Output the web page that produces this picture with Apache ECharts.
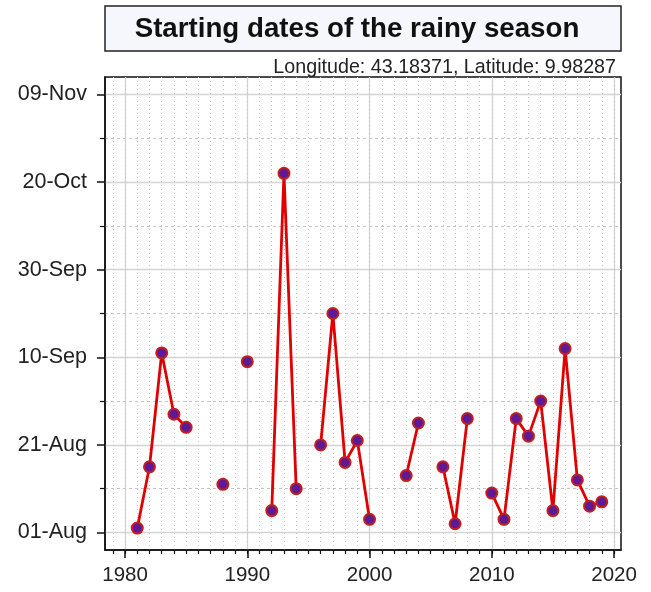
<!DOCTYPE html>
<html>
<head>
<meta charset="utf-8">
<script src="https://cdn.jsdelivr.net/npm/echarts@6/dist/echarts.min.js"></script>
<style>
html,body{margin:0;padding:0;background:#fff;}
#chart{width:651px;height:592px;}
</style>
</head>
<body>
<div id="chart"></div>
<script>
// ---- data ----
const years = [1981,1982,1983,1984,1985,1986,1987,1988,1989,1990,1991,1992,1993,1994,1995,1996,1997,1998,1999,2000,
               2001,2002,2003,2004,2005,2006,2007,2008,2009,2010,2011,2012,2013,2014,2015,2016,2017,2018,2019];
// days after 01-Aug (null = missing)
const onsetDays = [1,15,41,27,24,null,null,11,null,39,null,5,82,10,null,20,50,16,21,3,
                   null,null,13,25,null,15,2,26,null,9,3,26,22,30,5,42,12,6,7];
const xMajorTicks = [1980,1990,2000,2010,2020];
const xMinorTicks = [1979,1980,1981,1982,1983,1984,1985,1986,1987,1988,1989,1990,1991,1992,1993,1994,1995,1996,1997,1998,1999,
                     2000,2001,2002,2003,2004,2005,2006,2007,2008,2009,2010,2011,2012,2013,2014,2015,2016,2017,2018,2019,2020];
const yTickDays = [0,20,40,60,80,100];
const yTickLabels = ['01-Aug','21-Aug','10-Sep','30-Sep','20-Oct','09-Nov'];
const yMinorDays = [10,30,50,70,90];
const titleText = 'Starting dates of the rainy season';
const subtitleText = 'Longitude: 43.18371, Latitude: 9.98287';

const FONT = 'Liberation Sans, Arial, sans-serif';
const chart = echarts.init(document.getElementById('chart'), null, {renderer:'canvas'});
const xMin = 1978.36, xMax = 2020.57, yMin = -4, yMax = 104;

const seriesData = years.map((y,i)=>[y, onsetDays[i]]);

chart.setOption({
  animation:false,
  backgroundColor:'#ffffff',
  grid:{left:105, right:30, top:77, bottom:42, show:true, borderColor:'#111', borderWidth:1.5, backgroundColor:'transparent'},
  graphic:[
    {type:'rect', shape:{x:105, y:6, width:516, height:45}, style:{fill:'#f5f7fc', stroke:'#222', lineWidth:1.5}, z:10},
    {type:'text', x:357, y:29, style:{text:titleText, font:'bold 27.7px '+FONT, fill:'#111', textAlign:'center', textVerticalAlign:'middle'}, z:11},
    {type:'text', x:616, y:78, style:{text:subtitleText, font:'19.7px '+FONT, fill:'#222', textAlign:'right', textVerticalAlign:'bottom'}, z:11}
  ],
  xAxis:[
    {type:'value', min:xMin, max:xMax, position:'bottom',
     axisLine:{show:true, onZero:false, lineStyle:{color:'#111', width:1.5}},
     axisTick:{show:true, customValues:xMajorTicks, length:8, lineStyle:{color:'#111', width:1.5}},
     axisLabel:{show:true, customValues:xMajorTicks, fontSize:20.5, fontFamily:FONT, color:'#222', margin:15,
                formatter:(v)=>String(Math.round(v))},
     splitLine:{show:true, lineStyle:{color:'#d4d4d4', width:1.3, type:'solid'}}},
    {type:'value', min:xMin, max:xMax, position:'bottom',
     axisLine:{show:false, onZero:false},
     axisTick:{show:true, customValues:xMinorTicks, length:4, lineStyle:{color:'#111', width:1.2}},
     axisLabel:{show:false},
     splitLine:{show:true, lineStyle:{color:'#c4c4c4', width:1, type:[1,3]}}}
  ],
  yAxis:[
    {type:'value', min:yMin, max:yMax, position:'left',
     axisLine:{show:true, onZero:false, lineStyle:{color:'#111', width:1.5}},
     axisTick:{show:true, customValues:yTickDays, length:8, lineStyle:{color:'#111', width:1.5}},
     axisLabel:{show:true, customValues:yTickDays, fontSize:21.5, fontFamily:FONT, color:'#222', margin:18,
                formatter:(v)=>{const k=yTickDays.indexOf(v); return k>=0?yTickLabels[k]:'';}},
     splitLine:{show:true, lineStyle:{color:'#d4d4d4', width:1.3, type:'solid'}}},
    {type:'value', min:yMin, max:yMax, position:'left',
     axisLine:{show:false, onZero:false},
     axisTick:{show:true, customValues:yMinorDays, length:5, lineStyle:{color:'#111', width:1.2}},
     axisLabel:{show:false},
     splitLine:{show:true, lineStyle:{color:'#c4c4c4', width:1, type:[3,3]}}}
  ],
  series:[{
    type:'line', xAxisIndex:0, yAxisIndex:0,
    data:seriesData, connectNulls:false,
    showSymbol:true, symbol:'circle', symbolSize:11,
    lineStyle:{color:'#e00000', width:2.8},
    itemStyle:{color:'#5e1a96', borderColor:'#c41e1e', borderWidth:2},
    z:5
  }]
});
</script>
</body>
</html>
